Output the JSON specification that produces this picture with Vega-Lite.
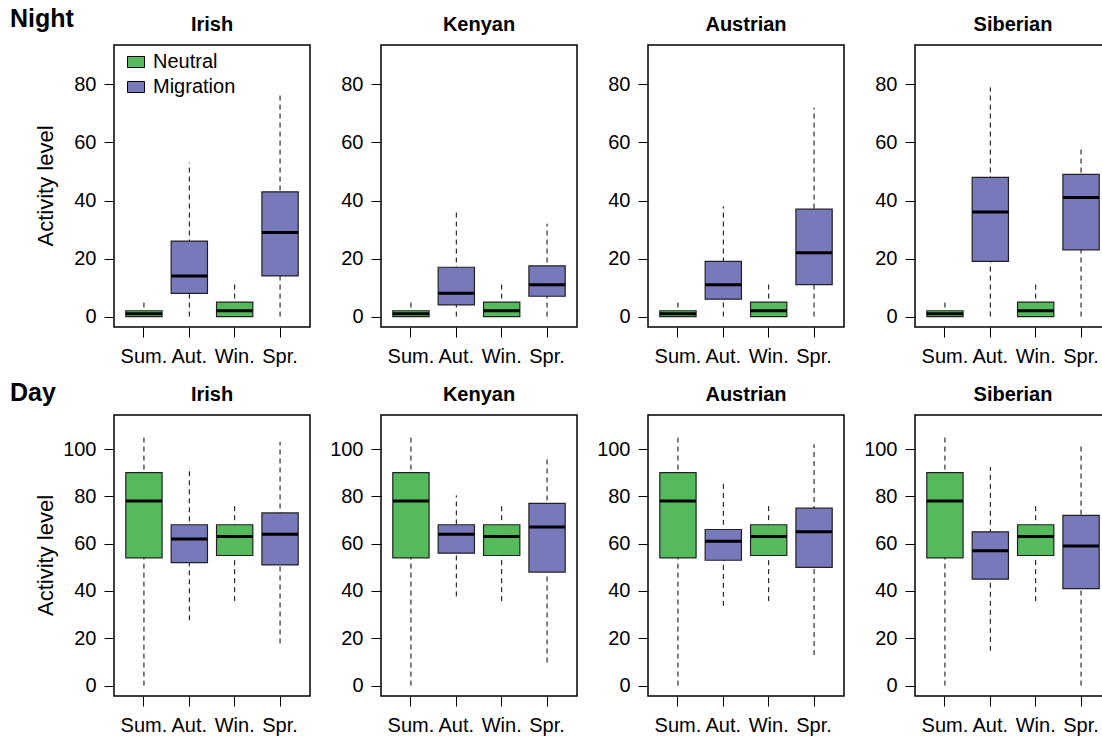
{
  "$schema": "https://vega.github.io/schema/vega-lite/v6.json",
  "padding": {"left": 10, "top": 7, "right": 0, "bottom": 0},
  "background": "white",
  "config": {
    "font": "Liberation Sans",
    "view": {"stroke": "black", "strokeWidth": 1.5},
    "axis": {"grid": false, "domain": false, "tickColor": "black", "tickSize": 10, "labelColor": "black", "labelFont": "Liberation Sans"},
    "header": {"labelFont": "Liberation Sans", "labelColor": "black"},
    "title": {"font": "Liberation Sans", "color": "black"}
  },
  "datasets": {
    "boxes": [
      {"time": "Night", "population": "Irish", "season": "Sum.", "type": "Neutral", "lo": 0, "q1": 0, "med": 1, "q3": 2, "hi": 5},
      {"time": "Night", "population": "Irish", "season": "Aut.", "type": "Migration", "lo": 0, "q1": 8, "med": 14, "q3": 26, "hi": 53},
      {"time": "Night", "population": "Irish", "season": "Win.", "type": "Neutral", "lo": 0, "q1": 0, "med": 2, "q3": 5, "hi": 12},
      {"time": "Night", "population": "Irish", "season": "Spr.", "type": "Migration", "lo": 0, "q1": 14, "med": 29, "q3": 43, "hi": 77},
      {"time": "Night", "population": "Kenyan", "season": "Sum.", "type": "Neutral", "lo": 0, "q1": 0, "med": 1, "q3": 2, "hi": 5},
      {"time": "Night", "population": "Kenyan", "season": "Aut.", "type": "Migration", "lo": 0, "q1": 4, "med": 8, "q3": 17, "hi": 36},
      {"time": "Night", "population": "Kenyan", "season": "Win.", "type": "Neutral", "lo": 0, "q1": 0, "med": 2, "q3": 5, "hi": 12},
      {"time": "Night", "population": "Kenyan", "season": "Spr.", "type": "Migration", "lo": 0, "q1": 7, "med": 11, "q3": 17.5, "hi": 32},
      {"time": "Night", "population": "Austrian", "season": "Sum.", "type": "Neutral", "lo": 0, "q1": 0, "med": 1, "q3": 2, "hi": 5},
      {"time": "Night", "population": "Austrian", "season": "Aut.", "type": "Migration", "lo": 0, "q1": 6, "med": 11, "q3": 19, "hi": 38},
      {"time": "Night", "population": "Austrian", "season": "Win.", "type": "Neutral", "lo": 0, "q1": 0, "med": 2, "q3": 5, "hi": 12},
      {"time": "Night", "population": "Austrian", "season": "Spr.", "type": "Migration", "lo": 0, "q1": 11, "med": 22, "q3": 37, "hi": 72},
      {"time": "Night", "population": "Siberian", "season": "Sum.", "type": "Neutral", "lo": 0, "q1": 0, "med": 1, "q3": 2, "hi": 5},
      {"time": "Night", "population": "Siberian", "season": "Aut.", "type": "Migration", "lo": 0, "q1": 19, "med": 36, "q3": 48, "hi": 79},
      {"time": "Night", "population": "Siberian", "season": "Win.", "type": "Neutral", "lo": 0, "q1": 0, "med": 2, "q3": 5, "hi": 12},
      {"time": "Night", "population": "Siberian", "season": "Spr.", "type": "Migration", "lo": 0, "q1": 23, "med": 41, "q3": 49, "hi": 59},
      {"time": "Day", "population": "Irish", "season": "Sum.", "type": "Neutral", "lo": 0, "q1": 54, "med": 78, "q3": 90, "hi": 105},
      {"time": "Day", "population": "Irish", "season": "Aut.", "type": "Migration", "lo": 27.6, "q1": 52, "med": 62, "q3": 68, "hi": 92.4},
      {"time": "Day", "population": "Irish", "season": "Win.", "type": "Neutral", "lo": 35.7, "q1": 55, "med": 63, "q3": 68, "hi": 77.3},
      {"time": "Day", "population": "Irish", "season": "Spr.", "type": "Migration", "lo": 17.8, "q1": 51, "med": 64, "q3": 73, "hi": 103},
      {"time": "Day", "population": "Kenyan", "season": "Sum.", "type": "Neutral", "lo": 0, "q1": 54, "med": 78, "q3": 90, "hi": 105},
      {"time": "Day", "population": "Kenyan", "season": "Aut.", "type": "Migration", "lo": 37.7, "q1": 56, "med": 64, "q3": 68, "hi": 80.4},
      {"time": "Day", "population": "Kenyan", "season": "Win.", "type": "Neutral", "lo": 35.7, "q1": 55, "med": 63, "q3": 68, "hi": 77.3},
      {"time": "Day", "population": "Kenyan", "season": "Spr.", "type": "Migration", "lo": 9.8, "q1": 48, "med": 67, "q3": 77, "hi": 96},
      {"time": "Day", "population": "Austrian", "season": "Sum.", "type": "Neutral", "lo": 0, "q1": 54, "med": 78, "q3": 90, "hi": 105},
      {"time": "Day", "population": "Austrian", "season": "Aut.", "type": "Migration", "lo": 33.7, "q1": 53, "med": 61, "q3": 66, "hi": 85.3},
      {"time": "Day", "population": "Austrian", "season": "Win.", "type": "Neutral", "lo": 35.7, "q1": 55, "med": 63, "q3": 68, "hi": 77.3},
      {"time": "Day", "population": "Austrian", "season": "Spr.", "type": "Migration", "lo": 12.9, "q1": 50, "med": 65, "q3": 75, "hi": 102},
      {"time": "Day", "population": "Siberian", "season": "Sum.", "type": "Neutral", "lo": 0, "q1": 54, "med": 78, "q3": 90, "hi": 105},
      {"time": "Day", "population": "Siberian", "season": "Aut.", "type": "Migration", "lo": 14.7, "q1": 45, "med": 57, "q3": 65, "hi": 92.4},
      {"time": "Day", "population": "Siberian", "season": "Win.", "type": "Neutral", "lo": 35.7, "q1": 55, "med": 63, "q3": 68, "hi": 77.3},
      {"time": "Day", "population": "Siberian", "season": "Spr.", "type": "Migration", "lo": 0, "q1": 41, "med": 59, "q3": 72, "hi": 102}
    ]
  },
  "resolve": {"scale": {"x": "independent", "y": "independent", "color": "shared"}},
  "spacing": 14,
  "vconcat": [
    {
      "data": {"name": "boxes"},
      "transform": [{"filter": "datum.time === 'Night'"}],
      "title": {"text": "Night", "anchor": "start", "frame": "group", "fontSize": 25, "fontWeight": "bold", "offset": -17, "dx": -104},
      "facet": {
        "row": {"field": "time", "header": {"title": null, "labelExpr": "'Activity level'", "labelAngle": -90, "labelFontSize": 22, "labelPadding": 46}},
        "column": {"field": "population", "sort": ["Irish", "Kenyan", "Austrian", "Siberian"], "header": {"title": null, "labelFontSize": 20, "labelFontWeight": "bold", "labelPadding": 10}}
      },
      "spacing": {"column": 71},
      "bounds": "flush",
      "resolve": {"axis": {"x": "independent", "y": "independent"}},
      "spec": {
        "width": 196,
        "height": 282,
        "encoding": {
          "x": {"field": "season", "type": "nominal", "sort": ["Sum.", "Aut.", "Win.", "Spr."], "scale": {"paddingInner": 0.2, "paddingOuter": 0.26}, "axis": {"title": null, "labelAngle": 0, "labelFontSize": 20, "labelPadding": 9, "labelOverlap": false}}
        },
        "layer": [
          {"mark": {"type": "rule", "color": "black", "strokeWidth": 1, "strokeDash": [5, 4]},
           "encoding": {"y": {"field": "lo", "type": "quantitative", "scale": {"domain": [-3.6, 93.6], "nice": false, "zero": false}, "axis": {"title": null, "values": [0, 20, 40, 60, 80], "labelFontSize": 20, "labelPadding": 8}}, "y2": {"field": "hi"}}},
          {"mark": {"type": "bar", "stroke": "#222222", "strokeWidth": 1.2},
           "encoding": {"y": {"field": "q1", "type": "quantitative"}, "y2": {"field": "q3"},
             "color": {"field": "type", "type": "nominal", "scale": {"domain": ["Neutral", "Migration"], "range": ["#55BA5B", "#7779BA"]},
               "legend": {"title": null, "orient": "none", "legendX": 12, "legendY": 7, "symbolType": "M-1,-0.65L1,-0.65L1,0.65L-1,0.65Z", "symbolSize": 289, "symbolStrokeColor": "black", "symbolStrokeWidth": 1, "symbolOpacity": 1, "labelFontSize": 20, "labelColor": "black", "rowPadding": 5, "labelOffset": 7}}}},
          {"mark": {"type": "tick", "color": "black", "thickness": 3, "size": 36, "opacity": 1},
           "encoding": {"y": {"field": "med", "type": "quantitative"}}}
        ]
      }
    },
    {
      "data": {"name": "boxes"},
      "transform": [{"filter": "datum.time === 'Day'"}],
      "title": {"text": "Day", "anchor": "start", "frame": "group", "fontSize": 25, "fontWeight": "bold", "offset": -21, "dx": -104},
      "facet": {
        "row": {"field": "time", "header": {"title": null, "labelExpr": "'Activity level'", "labelAngle": -90, "labelFontSize": 22, "labelPadding": 46}},
        "column": {"field": "population", "sort": ["Irish", "Kenyan", "Austrian", "Siberian"], "header": {"title": null, "labelFontSize": 20, "labelFontWeight": "bold", "labelPadding": 10}}
      },
      "spacing": {"column": 71},
      "bounds": "flush",
      "resolve": {"axis": {"x": "independent", "y": "independent"}},
      "spec": {
        "width": 196,
        "height": 281,
        "encoding": {
          "x": {"field": "season", "type": "nominal", "sort": ["Sum.", "Aut.", "Win.", "Spr."], "scale": {"paddingInner": 0.2, "paddingOuter": 0.26}, "axis": {"title": null, "labelAngle": 0, "labelFontSize": 20, "labelPadding": 9, "labelOverlap": false}}
        },
        "layer": [
          {"mark": {"type": "rule", "color": "black", "strokeWidth": 1, "strokeDash": [5, 4]},
           "encoding": {"y": {"field": "lo", "type": "quantitative", "scale": {"domain": [-4.4, 114.4], "nice": false, "zero": false}, "axis": {"title": null, "values": [0, 20, 40, 60, 80, 100], "labelFontSize": 20, "labelPadding": 8}}, "y2": {"field": "hi"}}},
          {"mark": {"type": "bar", "stroke": "#222222", "strokeWidth": 1.2},
           "encoding": {"y": {"field": "q1", "type": "quantitative"}, "y2": {"field": "q3"},
             "color": {"field": "type", "type": "nominal", "scale": {"domain": ["Neutral", "Migration"], "range": ["#55BA5B", "#7779BA"]}, "legend": null}}},
          {"mark": {"type": "tick", "color": "black", "thickness": 3, "size": 36, "opacity": 1},
           "encoding": {"y": {"field": "med", "type": "quantitative"}}}
        ]
      }
    }
  ]
}
